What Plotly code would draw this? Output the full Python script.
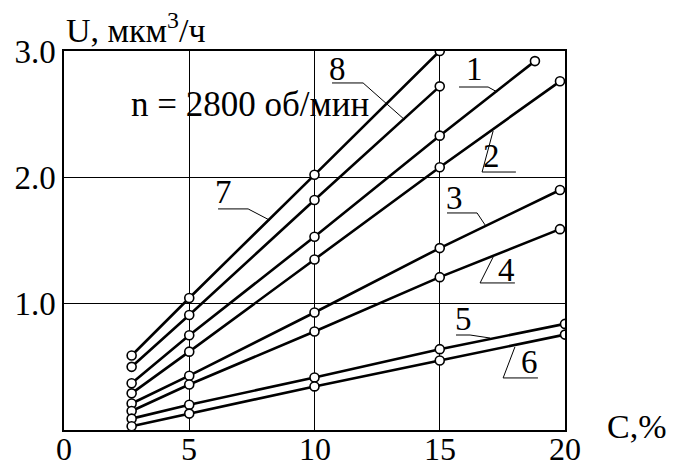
import plotly.graph_objects as go

# ---- data ----
line_names = ["7", "8", "1", "2", "3", "4", "5", "6"]
x7 = [2.7, 5, 10, 15]
y7 = [0.59, 1.045, 2.02, 3.0]
x8 = [2.7, 5, 10, 15]
y8 = [0.50, 0.91, 1.82, 2.72]
x1 = [2.7, 5, 10, 15, 18.8]
y1 = [0.37, 0.75, 1.53, 2.33, 2.92]
x2 = [2.7, 5, 10, 15, 19.8]
y2 = [0.29, 0.62, 1.35, 2.08, 2.76]
x3 = [2.7, 5, 10, 15, 19.8]
y3 = [0.21, 0.43, 0.93, 1.44, 1.90]
x4 = [2.7, 5, 10, 15, 19.8]
y4 = [0.15, 0.36, 0.78, 1.21, 1.59]
x5 = [2.7, 5, 10, 15, 20]
y5 = [0.09, 0.20, 0.415, 0.64, 0.84]
x6 = [2.7, 5, 10, 15, 20]
y6 = [0.03, 0.13, 0.345, 0.55, 0.755]

x_ticks = [0, 5, 10, 15, 20]
x_ticklabels = ["0", "5", "10", "15", "20"]
y_ticks = [1, 2, 3]
y_ticklabels = ["1.0", "2.0", "3.0"]

series = [(x7, y7), (x8, y8), (x1, y1), (x2, y2), (x3, y3), (x4, y4), (x5, y5), (x6, y6)]

FONT = "Liberation Serif, Times New Roman, serif"

fig = go.Figure()
for name, (xs, ys) in zip(line_names, series):
    fig.add_trace(go.Scatter(
        x=xs, y=ys, mode="lines+markers", name=name,
        line=dict(color="black", width=2.6),
        marker=dict(symbol="circle", size=9, color="white",
                    line=dict(color="black", width=1.6)),
        showlegend=False,
    ))

# curve labels with leader lines: (label, text x, text y, polyline points)
labels = [
    ("7", 6.35, 1.88, [(8.22, 1.66), (7.35, 1.75), (6.15, 1.75)]),
    ("8", 10.9, 2.86, [(13.61, 2.454), (11.94, 2.747), (10.7, 2.747)]),
    ("1", 16.37, 2.86, [(17.29, 2.676), (16.93, 2.715), (15.77, 2.715)]),
    ("2", 17.05, 2.17, [(17.13, 2.367), (16.69, 2.042), (18.04, 2.042)]),
    ("3", 15.57, 1.84, [(16.81, 1.623), (16.49, 1.718), (15.29, 1.718)]),
    ("4", 17.68, 1.27, [(17.13, 1.369), (16.61, 1.164), (18.0, 1.164)]),
    ("5", 15.93, 0.88, [(17.01, 0.728), (16.21, 0.752), (15.65, 0.752)]),
    ("6", 18.6, 0.54, [(18.0, 0.657), (17.53, 0.412), (18.92, 0.412)]),
]
shapes = []
annotations = []
for text, tx, ty, pts in labels:
    path = "M " + " L ".join(f"{px},{py}" for px, py in pts)
    shapes.append(dict(type="path", path=path, xref="x", yref="y",
                       line=dict(color="black", width=1)))
    annotations.append(dict(x=tx, y=ty, xref="x", yref="y", text=text,
                            showarrow=False, font=dict(family=FONT, size=33, color="black")))

# x tick labels placed close under the axis, as in the reference
for tv, tt in zip(x_ticks, x_ticklabels):
    annotations.append(dict(x=tv, y=0, xref="x", yref="paper", text=tt,
                            xanchor="center", yanchor="middle", yshift=-19,
                            showarrow=False, font=dict(family=FONT, size=32, color="black")))

annotations.append(dict(x=2.6, y=2.573, xref="x", yref="y", xanchor="left",
                        text="n = 2800 об/мин", showarrow=False,
                        font=dict(family=FONT, size=35, color="black")))
annotations.append(dict(x=0.0, y=1.0, xref="paper", yref="paper", xanchor="left",
                        yanchor="bottom", yshift=0,
                        text="U, мкм<sup>3</sup>/ч", showarrow=False,
                        font=dict(family=FONT, size=34, color="black")))
annotations.append(dict(x=1.0, y=0.0, xref="paper", yref="paper", xanchor="left",
                        yanchor="middle", xshift=40, yshift=4,
                        text="C,%", showarrow=False,
                        font=dict(family=FONT, size=34, color="black")))

# the page body adds an 8px offset, so the figure is sized to fit the window
fig.update_layout(
    width=667, height=453,
    margin=dict(l=56, r=110, t=43, b=31),
    paper_bgcolor="white", plot_bgcolor="white",
    font=dict(family=FONT, size=33, color="black"),
    shapes=shapes, annotations=annotations,
    xaxis=dict(range=[0, 20], tickvals=x_ticks, showticklabels=False,
               showgrid=True, gridcolor="black", gridwidth=1,
               showline=True, linecolor="black", linewidth=1.5, mirror=True,
               ticks="", zeroline=False, automargin=False),
    yaxis=dict(range=[0, 3], tickvals=y_ticks, ticktext=y_ticklabels,
               showgrid=True, gridcolor="black", gridwidth=1,
               showline=True, linecolor="black", linewidth=1.5, mirror=True,
               ticks="", zeroline=False, automargin=False,
               tickfont=dict(family=FONT, size=33, color="black")),
)

fig.write_html("out.html")
